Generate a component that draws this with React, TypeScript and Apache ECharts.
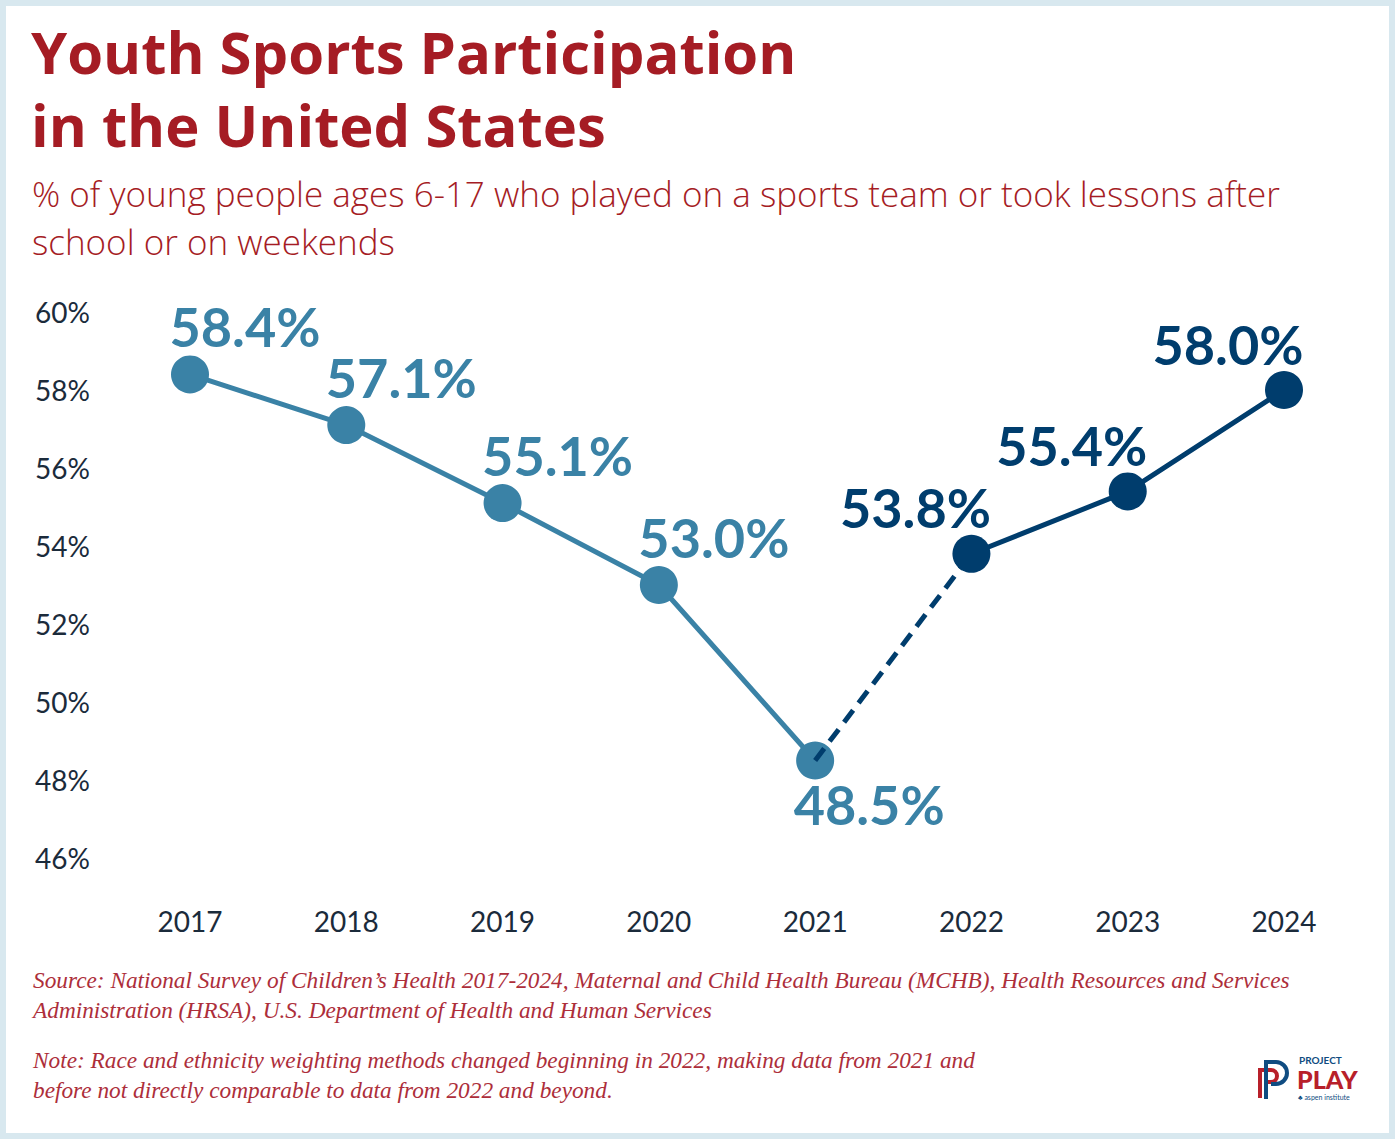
import React, { useEffect, useRef } from "react";
import * as echarts from "echarts";

const years = ["2017", "2018", "2019", "2020", "2021", "2022", "2023", "2024"];
const beforeValues = [58.4, 57.1, 55.1, 53.0, 48.5];
const afterValues = [53.8, 55.4, 58.0];
const yTicks = { min: 46, max: 60, interval: 2 };

const titleLines = ["Youth Sports Participation", "in the United States"];
const subtitleLines = [
  "% of young people ages 6-17 who played on a sports team or took lessons after",
  "school or on weekends",
];
const sourceLines = [
  "Source: National Survey of Children\u2019s Health 2017-2024, Maternal and Child Health Bureau (MCHB), Health Resources and Services",
  "Administration (HRSA), U.S. Department of Health and Human Services",
];
const noteLines = [
  "Note: Race and ethnicity weighting methods changed beginning in 2022, making data from 2021 and",
  "before not directly comparable to data from 2022 and beyond.",
];

const RED = "#a51c24";
const LIGHT = "#3a82a6";
const NAVY = "#003d6d";
const DARK = "#1b2b3b";
const FONT = "Lato, 'Noto Sans', sans-serif";
const HEAD_FONT = "'Open Sans', 'Noto Sans', sans-serif";

const bluePath = "M 11 41 L 11 4 L 21 4 A 11 11 0 0 1 21 26 L 16 26";
const redPath = "M 5 40 L 5 12 L 16 12 A 6 6 0 0 1 16 24 L 12 24";

echarts.graphic.registerShape("ppBlue", echarts.graphic.extendPath(bluePath, {}) as any);
echarts.graphic.registerShape("ppRed", echarts.graphic.extendPath(redPath, {}) as any);

export default function App() {
  const ref = useRef<HTMLDivElement>(null);

  useEffect(() => {
    if (!ref.current) return;
    const chart = echarts.init(ref.current, null, { renderer: "svg" });

    const lastBefore = beforeValues.length - 1;
    const s1 = years.map((_, i) => (i < beforeValues.length ? beforeValues[i] : "-"));
    const s2 = years.map((_, i) =>
      i === lastBefore ? beforeValues[lastBefore] : i === lastBefore + 1 ? afterValues[0] : "-"
    );
    const s3 = years.map((_, i) =>
      i > lastBefore && i - lastBefore - 1 < afterValues.length ? afterValues[i - lastBefore - 1] : "-"
    );

    const labelBase = {
      show: true,
      position: "inside",
      fontFamily: FONT,
      fontWeight: "bold",
      fontSize: 54,
      formatter: (p: any) => Number(p.value).toFixed(1) + "%",
    };

    const s1Data = s1.map((v, i) =>
      v === "-"
        ? "-"
        : {
            value: v,
            label: {
              ...labelBase,
              color: LIGHT,
              offset: i === lastBefore ? [54, 44] : [55, -48],
            },
          }
    );
    const s3Data = s3.map((v) =>
      v === "-"
        ? "-"
        : {
            value: v,
            label: { ...labelBase, color: NAVY, offset: [-56, -46] },
          }
    );

    const graphicTexts: any[] = [];
    titleLines.forEach((t, i) =>
      graphicTexts.push({
        type: "text",
        left: 31,
        top: 22 + i * 73,
        style: { text: t, font: `bold 58px ${HEAD_FONT}`, fill: RED },
      })
    );
    subtitleLines.forEach((t, i) =>
      graphicTexts.push({
        type: "text",
        left: 32,
        top: 176 + i * 48,
        style: { text: t, font: `300 35px ${HEAD_FONT}`, fill: RED },
      })
    );
    sourceLines.forEach((t, i) =>
      graphicTexts.push({
        type: "text",
        left: 33,
        top: 968 + i * 30,
        style: { text: t, font: `italic 23.3px 'Liberation Serif', serif`, fill: "#ad2e3a" },
      })
    );
    noteLines.forEach((t, i) =>
      graphicTexts.push({
        type: "text",
        left: 33,
        top: 1048 + i * 30,
        style: { text: t, font: `italic 23.3px 'Liberation Serif', serif`, fill: "#ad2e3a" },
      })
    );

    const option: any = {
      animation: false,
      backgroundColor: "#ffffff",
      grid: { left: 190, right: 112, top: 312, bottom: 282 },
      xAxis: {
        type: "category",
        data: years,
        boundaryGap: false,
        axisLine: { show: false },
        axisTick: { show: false },
        splitLine: { show: false },
        axisLabel: { color: DARK, fontFamily: FONT, fontSize: 28, margin: 49 },
      },
      yAxis: {
        type: "value",
        min: yTicks.min,
        max: yTicks.max,
        interval: yTicks.interval,
        axisLine: { show: false },
        axisTick: { show: false },
        splitLine: { show: false },
        axisLabel: {
          color: DARK,
          fontFamily: FONT,
          fontSize: 28,
          margin: 100,
          formatter: "{value}%",
        },
      },
      series: [
        {
          type: "line",
          data: s1Data,
          z: 2,
          symbol: "circle",
          symbolSize: 38,
          lineStyle: { color: LIGHT, width: 5 },
          itemStyle: { color: LIGHT },
        },
        {
          type: "line",
          data: s2,
          z: 3,
          symbol: "none",
          lineStyle: { color: NAVY, width: 5, type: [15, 9] },
        },
        {
          type: "line",
          data: s3Data,
          z: 4,
          symbol: "circle",
          symbolSize: 38,
          lineStyle: { color: NAVY, width: 5 },
          itemStyle: { color: NAVY },
        },
      ],
      graphic: [
        {
          type: "rect",
          shape: { x: 3, y: 3, width: 1396 - 7, height: 1140 - 7 },
          style: { fill: "none", stroke: "#d8e8ef", lineWidth: 6 },
          silent: true,
        },
        ...graphicTexts,
        {
          type: "ppRed",
          x: 1255,
          y: 1058,
          style: { fill: "none", stroke: "#b8202a", lineWidth: 4 },
        },
        {
          type: "ppBlue",
          x: 1255,
          y: 1058,
          style: { fill: "none", stroke: "#0f4c81", lineWidth: 4 },
        },
        {
          type: "text",
          x: 1299,
          y: 1055,
          style: { text: "PROJECT", font: `bold 10px ${FONT}`, fill: "#0f4c81" },
        },
        {
          type: "text",
          x: 1297,
          y: 1066,
          style: { text: "PLAY", font: `900 25px ${FONT}`, fill: "#b8202a" },
        },
        {
          type: "text",
          x: 1298,
          y: 1093,
          style: { text: "\u2663 aspen institute", font: `7px ${FONT}`, fill: "#0f4c81" },
        },
      ],
    };

    chart.setOption(option);
    return () => chart.dispose();
  }, []);

  return (
    <div
      ref={ref}
      style={{ position: "absolute", left: 0, top: 0, width: 1396, height: 1140 }}
    />
  );
}
